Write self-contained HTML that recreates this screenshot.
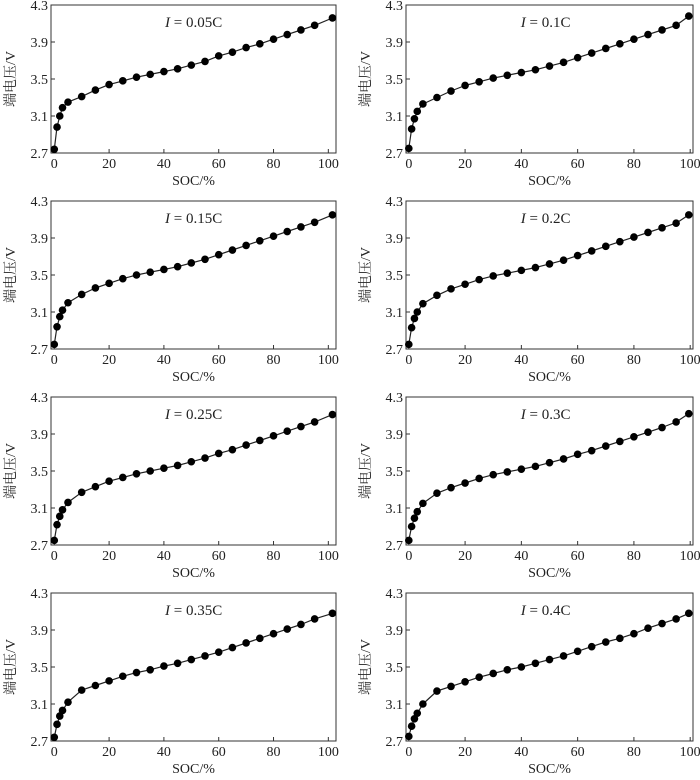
<!DOCTYPE html>
<html><head><meta charset="utf-8"><style>
body{margin:0;background:#fff;}
svg text{font-family:"Liberation Serif","Noto Serif CJK SC",serif;fill:#222;}
</style></head><body>
<svg id="chart" width="700" height="775" viewBox="0 0 700 775" xmlns="http://www.w3.org/2000/svg" font-family="'Liberation Serif','Noto Serif CJK SC',serif"></svg>
<script>
const socValues=[0,1,2,3,5,10,15,20,25,30,35,40,45,50,55,60,65,70,75,80,85,90,95,100];
const rateLabels=["0.05C","0.1C","0.15C","0.2C","0.25C","0.3C","0.35C","0.4C"];
const v005=[2.74,2.98,3.10,3.19,3.25,3.31,3.38,3.44,3.48,3.52,3.55,3.58,3.61,3.65,3.69,3.75,3.79,3.84,3.88,3.93,3.98,4.03,4.08,4.16];
const v010=[2.75,2.96,3.07,3.15,3.23,3.30,3.37,3.43,3.47,3.51,3.54,3.57,3.60,3.64,3.68,3.73,3.78,3.83,3.88,3.93,3.98,4.03,4.08,4.18];
const v015=[2.75,2.94,3.05,3.12,3.20,3.29,3.36,3.41,3.46,3.50,3.53,3.56,3.59,3.63,3.67,3.72,3.77,3.82,3.87,3.92,3.97,4.02,4.07,4.15];
const v020=[2.75,2.93,3.03,3.10,3.19,3.28,3.35,3.40,3.45,3.49,3.52,3.55,3.58,3.62,3.66,3.71,3.76,3.81,3.86,3.91,3.96,4.01,4.06,4.15];
const v025=[2.75,2.92,3.01,3.08,3.16,3.27,3.33,3.39,3.43,3.47,3.50,3.53,3.56,3.60,3.64,3.69,3.73,3.78,3.83,3.88,3.93,3.98,4.03,4.11];
const v030=[2.75,2.90,2.99,3.06,3.15,3.26,3.32,3.37,3.42,3.46,3.49,3.52,3.55,3.59,3.63,3.68,3.72,3.77,3.82,3.87,3.92,3.97,4.03,4.12];
const v035=[2.74,2.88,2.97,3.03,3.12,3.25,3.30,3.35,3.40,3.44,3.47,3.51,3.54,3.58,3.62,3.66,3.71,3.76,3.81,3.86,3.91,3.96,4.02,4.08];
const v040=[2.75,2.86,2.94,3.00,3.10,3.24,3.29,3.34,3.39,3.43,3.47,3.50,3.54,3.58,3.62,3.67,3.72,3.77,3.81,3.86,3.92,3.97,4.02,4.08];
const series=[v005,v010,v015,v020,v025,v030,v035,v040];
const yTicks=[2.7,3.1,3.5,3.9,4.3];
const xTicks=[0,20,40,60,80,100];

const NS="http://www.w3.org/2000/svg";
const svg=document.getElementById('chart');
function mk(tag,attrs,parent){const e=document.createElementNS(NS,tag);for(const k in attrs)e.setAttribute(k,attrs[k]);(parent||svg).appendChild(e);return e;}
const tops=[5,201,397,593];
const cols=[{l:51,r:336,xmin:-1.2,xmax:102.8,lab:15,last:101.5},{l:406,r:693,xmin:-1,xmax:101,lab:370,last:99.5}];
for(let i=0;i<8;i++){
  const c=cols[i%2], top=tops[Math.floor(i/2)], h=148, bot=top+h;
  const g=mk('g',{});
   
  const xs=v=>c.l+(v-c.xmin)/(c.xmax-c.xmin)*(c.r-c.l);
  const ys=v=>bot-(v-2.7)/1.6*h;
  const box=mk('rect',{x:c.l,y:top,width:c.r-c.l,height:h,fill:'none',stroke:'#333','stroke-width':1},g);
   
  yTicks.forEach(t=>{
    mk('line',{x1:c.l,x2:c.l+4,y1:ys(t),y2:ys(t),stroke:'#333'},g);
    const tx=mk('text',{x:c.l-3,y:ys(t)+5,'text-anchor':'end','font-size':14},g);
    tx.textContent=t.toFixed(1);
     
  });
  xTicks.forEach(t=>{
    mk('line',{x1:xs(t),x2:xs(t),y1:bot,y2:bot-4,stroke:'#333'},g);
    const tx=mk('text',{x:xs(t),y:bot+15,'text-anchor':'middle','font-size':14},g);
    tx.textContent=t;
     
  });
  const xt=mk('text',{x:(c.l+c.r)/2,y:bot+32,'text-anchor':'middle','font-size':14},g);
  xt.textContent='SOC/%';
   
  const yt=mk('text',{x:c.lab,y:top+h/2,'text-anchor':'middle','font-size':14,transform:`rotate(-90 ${c.lab} ${top+h/2})`},g);
  yt.textContent='端电压/V';
   
  const lb=mk('text',{x:c.l+(c.r-c.l)*0.40,y:top+22,'font-size':15},g);
  lb.innerHTML='<tspan font-style="italic">I</tspan> = '+rateLabels[i];
   
  const xv=j=>j===socValues.length-1?c.last:socValues[j];
  const d=series[i].map((v,j)=>(j?'L':'M')+xs(xv(j)).toFixed(1)+' '+ys(v).toFixed(1)).join(' ');
  const ln=mk('path',{d:d,fill:'none',stroke:'#222','stroke-width':1.2,'stroke-linejoin':'round'},g);
   
  series[i].forEach((v,j)=>{
    const p=mk('circle',{cx:xs(xv(j)),cy:ys(v),r:3.8,fill:'#000'},g);
     
  });
}
</script>
</body></html>
